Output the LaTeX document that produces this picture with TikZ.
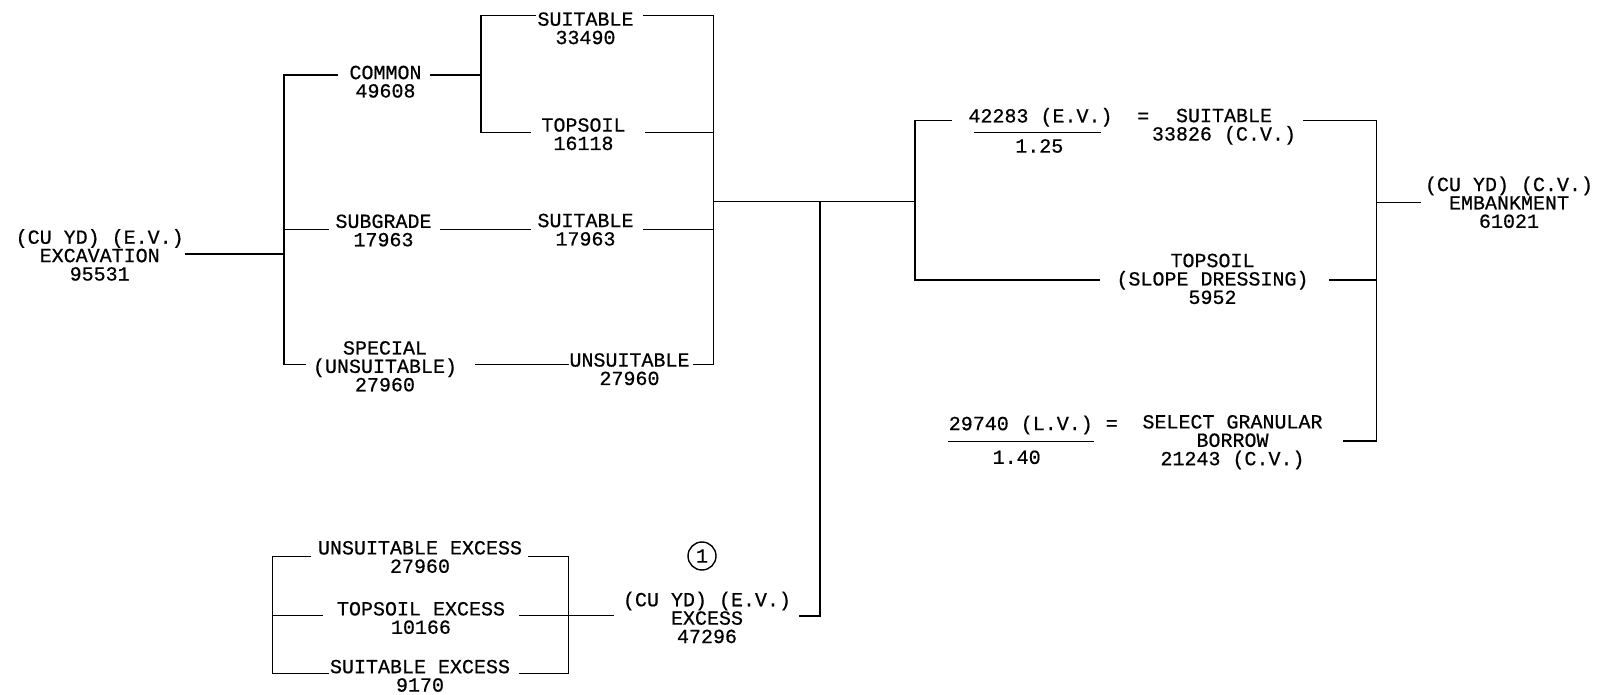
\documentclass[tikz,border=0pt]{standalone}
\usepackage{fontspec}
\newfontfamily\plotfont[FakeBold=0.6]{Liberation Mono}
\begin{document}
\begin{tikzpicture}[x=0.5pt,y=-0.5pt,
  lbl/.style={inner sep=0pt, align=center, font={\plotfont\fontsize{10pt}{9.2pt}\selectfont}},
  ln/.style={line width=0.7pt, line cap=rect}]
\useasboundingbox (0,0) rectangle (1597,695);
% ---------- text nodes ----------
\node[lbl] (exc)  at (99.7,255)  {(CU YD) (E.V.)\\EXCAVATION\\95531};
\node[lbl] (com)  at (385.5,81.7) {COMMON\\49608};
\node[lbl] (sub)  at (383.5,230.5) {SUBGRADE\\17963};
\node[lbl] (spe)  at (385,366.3) {SPECIAL\\(UNSUITABLE)\\27960};
\node[lbl] (su1)  at (585.5,28.3) {SUITABLE\\33490};
\node[lbl] (to1)  at (583.5,134.2) {TOPSOIL\\16118};
\node[lbl] (su2)  at (585.5,229.7) {SUITABLE\\17963};
\node[lbl] (uns)  at (629.5,369.2) {UNSUITABLE\\27960};
\node[lbl] (n1)   at (1040.5,117.3) {42283 (E.V.)};
\node[lbl] (d1)   at (1039.3,146) {1.25};
\node[lbl] (eq1)  at (1143.3,117.7) {=};
\node[lbl] (su3)  at (1224,126.7) {SUITABLE\\33826 (C.V.)};
\node[lbl] (tsd)  at (1212.5,278.9) {TOPSOIL\\(SLOPE DRESSING)\\5952};
\node[lbl] (n2)   at (1020.8,425) {29740 (L.V.)};
\node[lbl] (d2)   at (1016.7,457.3) {1.40};
\node[lbl] (eq2)  at (1111.7,425) {=};
\node[lbl] (sgb)  at (1232.5,442.2) {SELECT GRANULAR\\BORROW\\21243 (C.V.)};
\node[lbl] (emb)  at (1509,202.3) {(CU YD) (C.V.)\\EMBANKMENT\\61021};
\node[lbl] (ue)   at (420,557) {UNSUITABLE EXCESS\\27960};
\node[lbl] (te)   at (421,618) {TOPSOIL EXCESS\\10166};
\node[lbl] (se)   at (420,675.8) {SUITABLE EXCESS\\9170};
\node[lbl] (exs)  at (707,617.5) {(CU YD) (E.V.)\\EXCESS\\47296};
\node[lbl, draw, circle, line width=0.7pt, minimum size=14pt] (one) at (702,556) {1};
% ---------- coordinates ----------
\coordinate (a1) at (186,254);   \coordinate (a2) at (284,254);
\coordinate (vLt) at (284,75);   \coordinate (vLb) at (284,364.3);
\coordinate (c1) at (337,75);    \coordinate (c2) at (431,75);  \coordinate (c3) at (481,75);
\coordinate (s1) at (284,229.3); \coordinate (s2) at (328,229.3);
\coordinate (s3) at (440.7,229.3); \coordinate (s4) at (530.7,229.3);
\coordinate (s5) at (644,229.3); \coordinate (s6) at (713.3,229.3);
\coordinate (p1) at (305,364.3); \coordinate (p2) at (476,364.3);
\coordinate (p3) at (568.3,364.3); \coordinate (p4) at (693.3,364.3);
\coordinate (p5) at (713.3,364.3);
\coordinate (v2t) at (481,15.7); \coordinate (v2b) at (481,132.7);
\coordinate (t1) at (535,15.7);  \coordinate (t2) at (644,15.7); \coordinate (t3) at (713.3,15.7);
\coordinate (o1) at (530.7,132.7); \coordinate (o2) at (645.7,132.7); \coordinate (o3) at (713.3,132.7);
\coordinate (j1) at (713.3,201.7); \coordinate (j2) at (820,201.7); \coordinate (j3) at (915,201.7);
\coordinate (j4) at (820,616);   \coordinate (j5) at (800,616);
\coordinate (r1) at (915,120.7); \coordinate (r2) at (951.7,120.7);
\coordinate (r3) at (1304,120.7); \coordinate (r4) at (1376.7,120.7);
\coordinate (q1) at (915,280);   \coordinate (q2) at (1099,280);
\coordinate (q3) at (1330,280);  \coordinate (q4) at (1376.7,280);
\coordinate (g1) at (1343.3,441); \coordinate (g2) at (1376.7,441);
\coordinate (e1) at (1376.7,202.7); \coordinate (e2) at (1420,202.7);
\coordinate (b1l) at (974.3,132.3); \coordinate (b1r) at (1100.7,132.3);
\coordinate (b2l) at (948.3,441.7); \coordinate (b2r) at (1093.3,441.7);
\coordinate (x1) at (272.7,556.7); \coordinate (x2) at (310,556.7);
\coordinate (x3) at (528.3,556.7); \coordinate (x4) at (568.3,556.7);
\coordinate (x5) at (272.7,615.5); \coordinate (x6) at (322.7,615.5);
\coordinate (x7) at (519.3,615.5); \coordinate (x8) at (613,615.5);
\coordinate (x9) at (272.7,673.3); \coordinate (x10) at (328.3,673.3);
\coordinate (x11) at (520,673.3); \coordinate (x12) at (568.3,673.3);
% ---------- connectors ----------
\draw[ln] (a1) -- (a2);
\draw[ln] (vLt) -- (vLb);
\draw[ln] (vLt) -- (c1);  \draw[ln] (c2) -- (c3);
\draw[ln] (v2t) -- (v2b);
\draw[ln] (v2t) -- (t1);  \draw[ln] (t2) -- (t3);
\draw[ln] (v2b) -- (o1);  \draw[ln] (o2) -- (o3);
\draw[ln] (s1) -- (s2);   \draw[ln] (s3) -- (s4);  \draw[ln] (s5) -- (s6);
\draw[ln] (vLb) -- (p1);  \draw[ln] (p2) -- (p3);  \draw[ln] (p4) -- (p5);
\draw[ln] (t3) -- (p5);
\draw[ln] (j1) -- (j3);
\draw[ln] (j2) -- (j4) -- (j5);
\draw[ln] (r1) -- (q1);
\draw[ln] (r1) -- (r2);   \draw[ln] (r3) -- (r4);
\draw[ln] (q1) -- (q2);   \draw[ln] (q3) -- (q4);
\draw[ln] (r4) -- (g2);   \draw[ln] (g1) -- (g2);
\draw[ln] (e1) -- (e2);
\draw[ln] (b1l) -- (b1r);
\draw[ln] (b2l) -- (b2r);
\draw[ln] (x1) -- (x9);   \draw[ln] (x4) -- (x12);
\draw[ln] (x1) -- (x2);   \draw[ln] (x3) -- (x4);
\draw[ln] (x5) -- (x6);   \draw[ln] (x7) -- (x8);
\draw[ln] (x9) -- (x10);  \draw[ln] (x11) -- (x12);
\end{tikzpicture}
\end{document}
